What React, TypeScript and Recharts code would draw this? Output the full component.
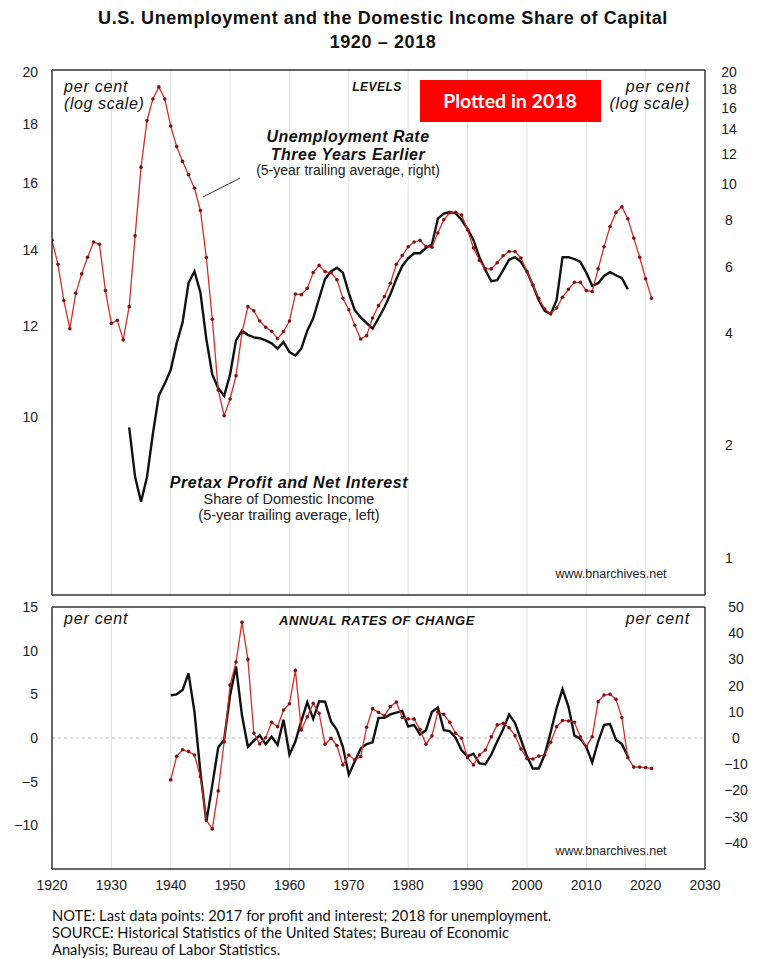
import React from "react";
import {
  LineChart,
  Line,
  XAxis,
  YAxis,
  CartesianGrid,
  ReferenceLine,
} from "recharts";

// unemployment rate three years earlier, 5-yr trailing avg (right, log) — 1920..2021
const unemploymentLevel = [
  7.07, 6.1, 4.88, 4.1, 5.1, 5.75, 6.37, 7.0, 6.9, 5.19,
  4.24, 4.32, 3.83, 4.7, 7.27, 11.1, 14.8, 16.9, 18.2, 16.9,
  14.3, 12.6, 11.5, 10.6, 9.75, 8.5, 6.36, 4.35, 2.81, 2.4,
  2.66, 3.07, 4.0, 4.7, 4.58, 4.3, 4.14, 4.04, 3.86, 4.03,
  4.3, 5.08, 5.06, 5.26, 5.8, 6.06, 5.83, 5.79, 5.55, 4.95,
  4.61, 4.19, 3.85, 3.93, 4.38, 4.73, 5.0, 5.43, 6.1, 6.44,
  6.8, 7.0, 7.07, 6.8, 6.78, 7.4, 8.03, 8.38, 8.4, 8.27,
  7.55, 6.75, 6.25, 5.93, 5.93, 6.16, 6.43, 6.6, 6.6, 6.34,
  5.84, 5.37, 4.95, 4.63, 4.5, 4.66, 4.98, 5.23, 5.46, 5.46,
  5.19, 5.16, 5.93, 6.8, 7.7, 8.4, 8.7, 8.08, 7.17, 6.37,
  5.58, 4.95,
];
const unemploymentStart = 1920;

// pretax profit and net interest, share of domestic income (left, log) — 1933..2017
const profitLevel = [
  9.8, 8.87, 8.44, 8.87, 9.68, 10.45, 10.7,
  11.0, 11.6, 12.1, 13.1, 13.4, 12.85, 11.7, 10.9, 10.6, 10.44,
  10.9, 11.67, 11.9, 11.8, 11.74, 11.72, 11.67, 11.6, 11.48, 11.63,
  11.4, 11.32, 11.48, 11.9, 12.2, 12.7, 13.2, 13.4, 13.5, 13.37,
  12.83, 12.4, 12.22, 12.08, 11.95, 12.2, 12.47, 12.8, 13.2, 13.55,
  13.76, 13.9, 13.9, 14.05, 14.15, 14.9, 15.05, 15.1, 15.06, 14.86,
  14.6, 14.27, 13.79, 13.44, 13.14, 13.17, 13.44, 13.72, 13.79, 13.66,
  13.4, 13.04, 12.65, 12.38, 12.3, 12.65, 13.79, 13.79, 13.74, 13.66,
  13.37, 13.02, 13.09, 13.28, 13.38, 13.3, 13.22, 12.93,
];
const profitStart = 1933;

// annual rates of change — unemployment (right) 1940..2021
const unemploymentChange = [
  -16, -7, -4.5, -5.2, -6.5, -14.8, -31.3, -34.7, -20.2, -1.4,
  20.2, 29, 44.2, 30, 1.8, -2.3, 0.1, 6, 4.3, 10.7,
  13.1, 25.8, 3.1, 8.1, 13.2, 9.4, -2.4, -0.1, -2.9, -10.3,
  -6.5, -8.4, -7.1, 4.1, 11.2, 9.8, 8.5, 12, 13.7, 7.8,
  7.3, 7.2, 3.2, -2.4, 0.8, 10, 9, 6, 1.8, -0.1,
  -7.5, -10.3, -6.5, -4.6, 0.5, 5, 5.6, 3.9, 0.9, -4.2,
  -7.8, -8, -6.9, -6.5, -1.6, 4.3, 6.7, 6.5, 6, 0.5,
  -3.3, 0.5, 13.9, 16.4, 16.7, 14.8, 7.8, -7.5, -11.1, -11.1,
  -11.3, -11.6,
];
// annual rates of change — profit share (left) 1940..2017
const profitChange = [
  4.9, 5.0, 5.5, 7.4, 3.0, -3.9, -9.6, -5.4, -1.1, -0.2,
  4.9, 8.2, 2.6, -1.0, -0.3, 0.3, -0.7, 0.15, -0.8, 2.1,
  -1.9, -0.4, 1.95, 4.1, 2.2, 4.2, 4.15, 1.9, 0.9, -1.0,
  -4.2, -2.7, -1.2, -0.7, -0.5, 2.3, 2.3, 2.7, 2.9, 3.1,
  1.3, 1.5, 0.4, 0.9, 3.0, 3.5, 0.9, 0.8, 0, -1.4,
  -2.1, -1.8, -2.9, -3.0, -1.9, -0.4, 1.0, 2.7, 1.7, -0.2,
  -2.1, -3.5, -3.5, -1.9, 0.65, 3.4, 5.6, 3.6, 0.3, -0.1,
  -1.0, -2.8, -0.4, 1.5, 1.6, -0.2, -0.7, -2.1,
];
const changeStart = 1940;

const decadeTicks = [1920, 1930, 1940, 1950, 1960, 1970, 1980, 1990, 2000, 2010, 2020, 2030];
const gridYears = [1930, 1940, 1950, 1960, 1970, 1980, 1990, 2000, 2010, 2020];
const yearTicks = Array.from({ length: 111 }, (_, i) => 1920 + i);

const levelLeftTicks = [10, 12, 14, 16, 18, 20];
const levelRightLabels = [1, 2, 4, 6, 8, 10, 12, 14, 16, 18, 20];
const levelRightMarks = [0.9, 1, 2, 3, 4, 6, 8, 9, 10, 12, 14, 16, 18, 20];
const changeLeftTicks = [-10, -5, 0, 5, 10, 15];
const changeLeftMinor = Array.from({ length: 25 }, (_, i) => -15 + i * 1.25);
const changeRightTicks = [-40, -30, -20, -10, 0, 10, 20, 30, 40, 50];
const changeRightMinor = [-45, -35, -25, -15, -5, 5, 15, 25, 35, 45];

const levelData = unemploymentLevel.map((u, i) => {
  const year = unemploymentStart + i;
  const p = profitLevel[year - profitStart];
  return { year, unemp: u, profit: p === undefined ? null : p };
});

const changeData = unemploymentChange.map((u, i) => {
  const year = changeStart + i;
  const p = profitChange[i];
  return { year, unemp: u, profit: p === undefined ? null : p };
});

const FONT = "'Liberation Sans', Arial, Helvetica, sans-serif";
const AXIS = "#333";
const RED = "#d2302c";

const minus = (v: number) => (v < 0 ? `\u2212${Math.abs(v)}` : `${v}`);

function RedDot(props: any) {
  const { cx, cy } = props;
  if (cx == null || cy == null) return <g />;
  return <circle cx={cx} cy={cy} r={1.8} fill="#7d1212" />;
}

const centeredTick = (props: any) => (
  <text
    x={props.x}
    y={props.y}
    dy="0.35em"
    textAnchor="middle"
    fontSize={14}
    fill="#222"
    fontFamily={FONT}
  >
    {minus(props.payload.value)}
  </text>
);

const labelTick = { fontSize: 14, fill: "#222", fontFamily: FONT };
const X_DOMAIN: [number, number] = [1920, 2030];

export default function App() {
  return (
    <div style={{ position: "absolute", left: 0, top: 0, width: 767, height: 959, background: "#fff" }}>
      {/* top panel: levels */}
      <div style={{ position: "absolute", left: 0, top: 0 }}>
        <LineChart width={767} height={600} data={levelData} margin={{ top: 70, right: 0, bottom: 5, left: 0 }}>
          {gridYears.map((g) => (
            <ReferenceLine key={g} yAxisId="left" x={g} stroke="#e0e0e0" />
          ))}
          <XAxis type="number" dataKey="year" domain={X_DOMAIN} allowDataOverflow ticks={decadeTicks} interval={0}
            mirror height={1} tick={false} tickSize={6} stroke={AXIS} strokeWidth={1.5} />
          <XAxis xAxisId="minor" type="number" dataKey="year" domain={X_DOMAIN} allowDataOverflow ticks={yearTicks}
            interval={0} mirror height={1} tick={false} tickSize={3} axisLine={false} stroke={AXIS} />
          <XAxis xAxisId="top" orientation="top" type="number" dataKey="year" domain={X_DOMAIN} allowDataOverflow
            mirror height={1} tick={false} tickLine={false} stroke={AXIS} strokeWidth={1.5} />
          <YAxis yAxisId="left" scale="log" type="number" domain={[7, 20.08]} allowDataOverflow ticks={levelLeftTicks}
            interval={0} width={52} tickLine={false} tickSize={0} tickMargin={14} tick={labelTick} stroke={AXIS}
            strokeWidth={1.5} />
          <YAxis yAxisId="leftMarks" scale="log" type="number" domain={[7, 20.08]} allowDataOverflow ticks={levelLeftTicks}
            interval={0} mirror width={1} tick={false} tickSize={4} axisLine={false} stroke={AXIS} />
          <YAxis yAxisId="right" orientation="right" scale="log" type="number" domain={[0.795, 20.2]} allowDataOverflow
            ticks={levelRightLabels} interval={0} width={62} tickLine={false} tickSize={0} tickMargin={24}
            tick={centeredTick} stroke={AXIS} strokeWidth={1.5} />
          <YAxis yAxisId="rightMarks" orientation="right" scale="log" type="number" domain={[0.795, 20.2]}
            allowDataOverflow ticks={levelRightMarks} interval={0} mirror width={1} tick={false} tickSize={5}
            axisLine={false} stroke={AXIS} />
          <Line yAxisId="left" type="linear" dataKey="profit" stroke="#111" strokeWidth={2.4} dot={false}
            isAnimationActive={false} />
          <Line yAxisId="right" type="linear" dataKey="unemp" stroke={RED} strokeWidth={1.3} dot={<RedDot />}
            isAnimationActive={false} />
        </LineChart>
      </div>

      {/* bottom panel: annual rates of change */}
      <div style={{ position: "absolute", left: 0, top: 600 }}>
        <LineChart width={767} height={300} data={changeData} margin={{ top: 7, right: 0, bottom: 0, left: 0 }}>
          {gridYears.map((g) => (
            <ReferenceLine key={g} yAxisId="left" x={g} stroke="#e0e0e0" />
          ))}
          <ReferenceLine yAxisId="left" y={0} stroke="#bdbdbd" strokeDasharray="3 3" />
          <XAxis type="number" dataKey="year" domain={X_DOMAIN} allowDataOverflow ticks={decadeTicks} interval={0}
            mirror height={1} tick={false} tickSize={6} stroke={AXIS} strokeWidth={1.5} />
          <XAxis xAxisId="minor" type="number" dataKey="year" domain={X_DOMAIN} allowDataOverflow ticks={yearTicks}
            interval={0} mirror height={1} tick={false} tickSize={3} axisLine={false} stroke={AXIS} />
          <XAxis xAxisId="top" orientation="top" type="number" dataKey="year" domain={X_DOMAIN} allowDataOverflow
            mirror height={1} tick={false} tickLine={false} stroke={AXIS} strokeWidth={1.5} />
          <XAxis xAxisId="labels" type="number" dataKey="year" domain={X_DOMAIN} allowDataOverflow ticks={decadeTicks}
            interval={0} height={31} tickLine={false} axisLine={false} tickSize={0} tickMargin={11} tick={labelTick} />
          <YAxis yAxisId="left" type="number" domain={[-15, 15]} allowDataOverflow ticks={changeLeftTicks} interval={0}
            width={52} tickLine={false} tickSize={0} tickMargin={14} tick={labelTick} tickFormatter={minus}
            stroke={AXIS} strokeWidth={1.5} />
          <YAxis yAxisId="leftMarks" type="number" domain={[-15, 15]} allowDataOverflow ticks={changeLeftMinor}
            interval={0} mirror width={1} tick={false} tickSize={4} axisLine={false} stroke={AXIS} />
          <YAxis yAxisId="right" orientation="right" type="number" domain={[-50, 50]} allowDataOverflow
            ticks={changeRightTicks} interval={0} width={62} tickLine={false} tickSize={0} tickMargin={31}
            tick={centeredTick} stroke={AXIS} strokeWidth={1.5} />
          <YAxis yAxisId="rightMarks" orientation="right" type="number" domain={[-50, 50]} allowDataOverflow
            ticks={[...changeRightTicks, ...changeRightMinor]} interval={0} mirror width={1} tick={false} tickSize={4}
            axisLine={false} stroke={AXIS} />
          <Line yAxisId="left" type="linear" dataKey="profit" stroke="#111" strokeWidth={2.4} dot={false}
            isAnimationActive={false} />
          <Line yAxisId="right" type="linear" dataKey="unemp" stroke={RED} strokeWidth={1.3} dot={<RedDot />}
            isAnimationActive={false} />
        </LineChart>
      </div>

      {/* annotations */}
      <svg width={767} height={959} style={{ position: "absolute", left: 0, top: 0, pointerEvents: "none" }}>
        <g fontFamily={FONT} fill="#111">
          <text x={383} y={24} textAnchor="middle" fontSize={18} fontWeight="bold" letterSpacing={0.6}>
            U.S. Unemployment and the Domestic Income Share of Capital
          </text>
          <text x={383} y={48} textAnchor="middle" fontSize={18} fontWeight="bold" letterSpacing={0.6}>
            1920 {"\u2013"} 2018
          </text>

          <text x={64} y={92} fontSize={16} fontStyle="italic" letterSpacing={0.8}>per cent</text>
          <text x={64} y={109} fontSize={16} fontStyle="italic" letterSpacing={0.6}>(log scale)</text>
          <text x={690} y={92} fontSize={16} fontStyle="italic" letterSpacing={0.8} textAnchor="end">per cent</text>
          <text x={690} y={109} fontSize={16} fontStyle="italic" letterSpacing={0.6} textAnchor="end">(log scale)</text>
          <text x={377} y={91} fontSize={12} fontStyle="italic" fontWeight="bold" letterSpacing={0.5} textAnchor="middle">LEVELS</text>

          <text x={348} y={142} fontSize={16} fontStyle="italic" fontWeight="bold" letterSpacing={0.5} textAnchor="middle">Unemployment Rate</text>
          <text x={348} y={160} fontSize={16} fontStyle="italic" fontWeight="bold" letterSpacing={0.5} textAnchor="middle">Three Years Earlier</text>
          <text x={348} y={175} fontSize={14} textAnchor="middle" fill="#222">(5-year trailing average, right)</text>
          <line x1={203} y1={197} x2={240} y2={178} stroke="#333" strokeWidth={1} />

          <text x={289} y={488} fontSize={16} fontStyle="italic" fontWeight="bold" letterSpacing={0.6} textAnchor="middle">Pretax Profit and Net Interest</text>
          <text x={289} y={504} fontSize={14.5} textAnchor="middle" fill="#222">Share of Domestic Income</text>
          <text x={289} y={520} fontSize={14.5} textAnchor="middle" fill="#222">(5-year trailing average, left)</text>

          <text x={611} y={578} fontSize={12.5} textAnchor="middle" fill="#222">www.bnarchives.net</text>

          <text x={64} y={624} fontSize={16} fontStyle="italic" letterSpacing={0.8}>per cent</text>
          <text x={377} y={625} fontSize={13} fontStyle="italic" fontWeight="bold" letterSpacing={0.6} textAnchor="middle">ANNUAL RATES OF CHANGE</text>
          <text x={690} y={624} fontSize={16} fontStyle="italic" letterSpacing={0.8} textAnchor="end">per cent</text>
          <text x={611} y={855} fontSize={12.5} textAnchor="middle" fill="#222">www.bnarchives.net</text>
        </g>

        <rect x={420} y={80} width={181} height={42} fill="#ff0000" />
        <text x={510} y={108} fontSize={19.5} fontWeight="bold" fill="#fff" textAnchor="middle" fontFamily="Lato, 'Open Sans', sans-serif">
          Plotted in 2018
        </text>

        <g fontFamily="Lato, 'Open Sans', sans-serif" fontSize={14.7} fill="#111">
          <text x={52} y={921}>NOTE: Last data points: 2017 for profit and interest; 2018 for unemployment.</text>
          <text x={52} y={938}>SOURCE: Historical Statistics of the United States; Bureau of Economic</text>
          <text x={52} y={955}>Analysis; Bureau of Labor Statistics.</text>
        </g>
      </svg>
    </div>
  );
}
